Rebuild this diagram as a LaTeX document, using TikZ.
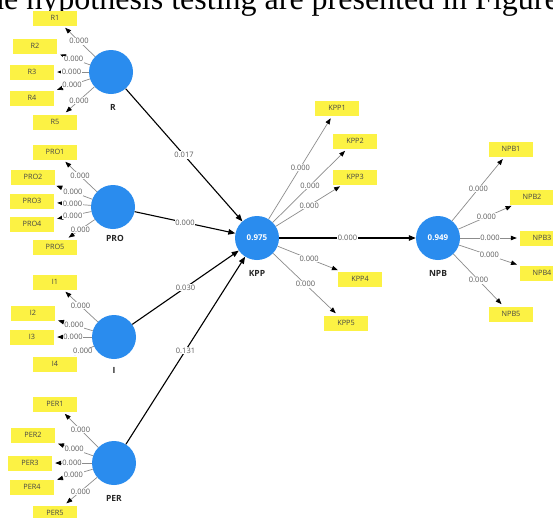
\documentclass[tikz,border=0pt]{standalone}
\usepackage{fontspec}
\setmainfont{Open Sans}
\newfontfamily\serifpage{Liberation Serif}
\usetikzlibrary{arrows.meta}
\definecolor{lvblue}{RGB}{42,140,238}
\definecolor{indyellow}{RGB}{252,242,68}
\definecolor{valgray}{RGB}{90,90,90}
\definecolor{linegray}{RGB}{140,140,140}
\definecolor{boxtext}{RGB}{70,70,70}
\begin{document}
\begin{tikzpicture}[x=1pt,y=-1pt,
 lv/.style={circle, fill=lvblue, minimum size=44pt, inner sep=0pt, text=white, font=\fontsize{8}{8}\selectfont\bfseries},
 lvname/.style={font=\fontsize{8.5}{8.5}\selectfont\bfseries, text=black!85, inner sep=0pt},
 ind/.style={fill=indyellow, minimum width=44pt, minimum height=15pt, inner sep=0pt, font=\fontsize{7.3}{7.3}\selectfont, text=boxtext},
 val/.style={fill=white, inner sep=0.8pt, font=\fontsize{7.5}{7.5}\selectfont, text=valgray},
 indarrow/.style={draw=linegray, line width=0.7pt, shorten >=3pt, -{Triangle[length=6pt,width=4.5pt,color=black]}},
 patharrow/.style={draw=black, line width=1.1pt, -{Triangle[length=7pt,width=5.5pt]}},
]
\useasboundingbox (0,0) rectangle (553,517);
\clip (0,0) rectangle (553,517);
\fill[white] (0,0) rectangle (553,517);

% cut-off line of text above the figure
\node[anchor=base west, inner sep=0pt, font=\serifpage\fontsize{32}{32}\selectfont] (toptext) at (-12,9) {he hypothesis testing are presented in Figure};

% latent variables
\node[lv] (R) at (111,72) {};
\node[lv] (PRO) at (113,207) {};
\node[lv] (I) at (114,337) {};
\node[lv] (PER) at (114,463) {};
\node[lv] (KPP) at (257,238) {0.975};
\node[lv] (NPB) at (438,238) {0.949};

\node[lvname] (Rn) at (113,107) {R};
\node[lvname] (PROn) at (115,238) {PRO};
\node[lvname] (In) at (114,370) {I};
\node[lvname] (PERn) at (114,498) {PER};
\node[lvname] (KPPn) at (257,273) {KPP};
\node[lvname] (NPBn) at (438,273) {NPB};

% indicators
\node[ind] (R1) at (55,18) {R1};
\node[ind] (R2) at (35,46) {R2};
\node[ind] (R3) at (32,72) {R3};
\node[ind] (R4) at (32,98) {R4};
\node[ind] (R5) at (55,122) {R5};

\node[ind] (PRO1) at (55,152) {PRO1};
\node[ind] (PRO2) at (33,177) {PRO2};
\node[ind] (PRO3) at (32,201) {PRO3};
\node[ind] (PRO4) at (32,224) {PRO4};
\node[ind] (PRO5) at (55,247) {PRO5};

\node[ind] (I1) at (55,282) {I1};
\node[ind] (I2) at (33,313) {I2};
\node[ind] (I3) at (32,337) {I3};
\node[ind] (I4) at (55,364) {I4};

\node[ind] (PER1) at (55,404) {PER1};
\node[ind] (PER2) at (33,435) {PER2};
\node[ind] (PER3) at (30,463) {PER3};
\node[ind] (PER4) at (32,487) {PER4};
\node[ind] (PER5) at (55,513) {PER5};

\node[ind] (KPP1) at (337,108) {KPP1};
\node[ind] (KPP2) at (355,141) {KPP2};
\node[ind] (KPP3) at (355,177) {KPP3};
\node[ind] (KPP4) at (360,279) {KPP4};
\node[ind] (KPP5) at (346,323) {KPP5};

\node[ind] (NPB1) at (511,149) {NPB1};
\node[ind] (NPB2) at (532,197) {NPB2};
\node[ind] (NPB3) at (542,238) {NPB3};
\node[ind] (NPB4) at (542,273) {NPB4};
\node[ind] (NPB5) at (511,314) {NPB5};

% outer loadings
\foreach \lv/\n in {R/R1,R/R2,R/R3,R/R4,R/R5,PRO/PRO1,PRO/PRO2,PRO/PRO3,PRO/PRO4,PRO/PRO5,I/I1,I/I2,I/I3,I/I4,PER/PER1,PER/PER2,PER/PER3,PER/PER4,PER/PER5,KPP/KPP1,KPP/KPP2,KPP/KPP3,KPP/KPP4,KPP/KPP5,NPB/NPB1,NPB/NPB2,NPB/NPB3,NPB/NPB4,NPB/NPB5}
  \draw[indarrow] (\lv) -- node[val] {0.000} (\n);

% path coefficients
\draw[patharrow] (R) -- node[val] {0.017} (KPP);
\draw[patharrow] (PRO) -- node[val] {0.000} (KPP);
\draw[patharrow] (I) -- node[val] {0.030} (KPP);
\draw[patharrow] (PER) -- node[val] {0.131} (KPP);
\draw[patharrow] (KPP) -- node[val] {0.000} (NPB);
\end{tikzpicture}
\end{document}
